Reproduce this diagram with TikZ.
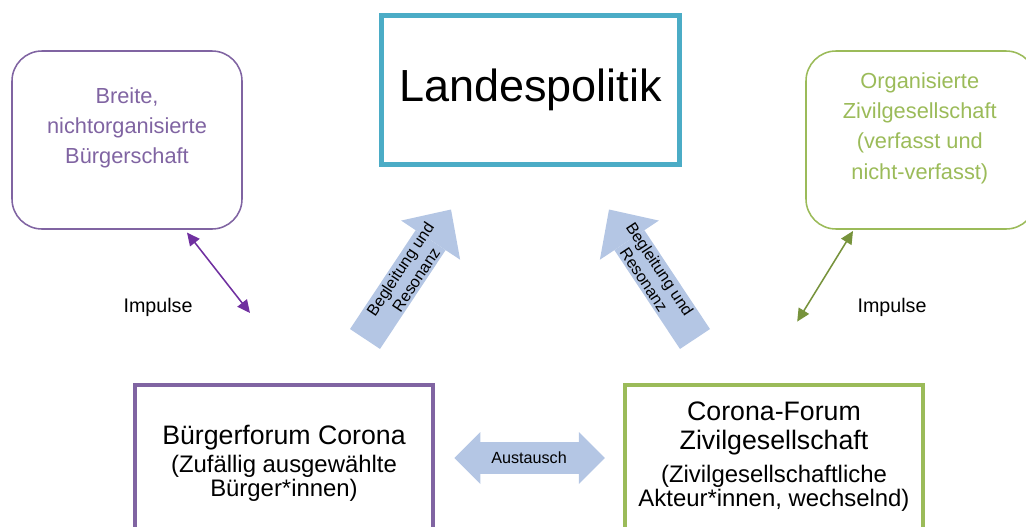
\documentclass[tikz,border=0pt]{standalone}
\usepackage{fontspec}
\setmainfont{Liberation Sans}
\usetikzlibrary{
arrows.meta,
positioning
}
\definecolor{landesteal}{RGB}{75,172,198}
\definecolor{boxpurple}{RGB}{128,100,162}
\definecolor{boxgreen}{RGB}{155,187,89}
\definecolor{arrowpurple}{RGB}{112,48,160}
\definecolor{arrowgreen}{RGB}{119,147,60}
\definecolor{blockblue}{RGB}{180,198,228}
\tikzset{>=latex}

\begin{document}
\begin{tikzpicture}[
	mainbox/.style={draw,line width=3.2pt,minimum width=7.45cm,minimum height=3.65cm},
	sidebox/.style={draw,rounded corners=0.75cm,line width=1.1pt,minimum width=5.75cm,minimum height=4.45cm},
	sidetext/.style={align=center,font=\fontsize{15.5}{21.6}\selectfont},
	titletext/.style={align=center,anchor=base,font=\fontsize{19}{20.6}\selectfont},
	subtext/.style={align=center,anchor=base,font=\fontsize{17}{17}\selectfont},
	impulse/.style={line width=1.1pt,>={Triangle[length=3.2mm,width=3mm]},<->},
	impulsetext/.style={anchor=base,font=\fontsize{14}{16}\selectfont},
	blockarrow/.style={draw=blockblue,line width=0.9cm,>={Triangle[line width=0pt,length=9.2mm,width=17.7mm]},->},
	dblarrow/.style={draw=blockblue,line width=0.8cm,>={Triangle[line width=0pt,length=6.5mm,width=13mm]},<->},
	arrowtext/.style={align=center,font=\fontsize{11.5}{13.5}\selectfont}
	]
		\useasboundingbox (0,0) rectangle (25.65,13.15);

		% main boxes
		\node[mainbox,draw=landesteal,minimum height=3.73cm,font=\fontsize{32}{38}\selectfont] (landes) at (13.26,10.9) {Landespolitik};
		\node[mainbox,draw=boxpurple] (bforum) at (7.1,1.7) {};
		\node[mainbox,draw=boxgreen] (zforum) at (19.35,1.7) {};

		% texts of the forums (base = last line)
		\node[titletext] (bforumtitle) at ([yshift=-1.55cm]bforum.north) {B\"urgerforum Corona};
		\node[subtext] (bforumsub) at ([yshift=-2.85cm]bforum.north) {(Zuf\"allig ausgew\"ahlte\\B\"urger*innen)};
		\node[titletext] (zforumtitle) at ([yshift=-1.675cm]zforum.north) {Corona-Forum\\Zivilgesellschaft};
		\node[subtext] (zforumsub) at ([yshift=-3.1cm]zforum.north) {(Zivilgesellschaftliche\\Akteur*innen, wechselnd)};

		% side boxes
		\node[sidebox,draw=boxpurple] (breite) at (3.175,9.65) {};
		\node[sidetext,text=boxpurple] (breitetext) at ([yshift=0.3cm]breite.center) {Breite,\\nichtorganisierte\\B\"urgerschaft};
		\node[sidebox,draw=boxgreen] (organ) at (23.025,9.65) {};
		\node[sidetext,text=boxgreen] (organtext) at ([yshift=0.3cm,xshift=-0.03cm]organ.center) {Organisierte\\Zivilgesellschaft\\(verfasst und\\nicht-verfasst)};

		% impulse
		\coordinate (impl) at (6.25,5.325);
		\coordinate (impr) at (19.93,5.11);
		\draw[impulse,draw=arrowpurple] ([xshift=1.5cm,yshift=-0.07cm]breite.south) -- (impl);
		\draw[impulse,draw=arrowgreen] ([xshift=-1.7cm,yshift=-0.03cm]organ.south) -- (impr);
		\node[impulsetext] (impltext) at (3.95,5.35) {Impulse};
		\node[impulsetext] (imprtext) at (22.3,5.35) {Impulse};

		% feedback to landes
		\coordinate (lbase) at (9.125,4.675);
		\coordinate (ltip) at (11.275,7.9125);
		\coordinate (rbase) at (17.375,4.675);
		\coordinate (rtip) at (15.225,7.9125);
		\draw[blockarrow] (lbase) -- (ltip) node[midway,sloped,arrowtext] {Begleitung und\\Resonanz};
		\draw[blockarrow] (rbase) -- (rtip) node[midway,sloped,arrowtext] {Begleitung und\\Resonanz};

		% exchange
		\draw[dblarrow,shorten <=0.475cm,shorten >=0.45cm] (bforum.east) -- (zforum.west) node[midway,arrowtext] {Austausch};
	\end{tikzpicture}
\end{document}
